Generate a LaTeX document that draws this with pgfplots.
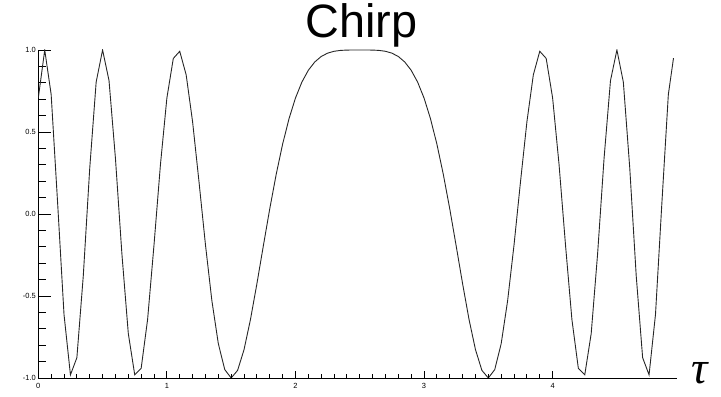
\documentclass[border=0pt]{standalone}
\usepackage{pgfplots}
\pgfplotsset{compat=1.18}
\usepackage{fontspec}
\setmainfont{Liberation Sans}
\newfontfamily\taufont{Liberation Serif}

\pgfplotstableread{
t y
0.00 0.70711
0.05 0.99997
0.10 0.72897
0.15 0.07063
0.20 -0.61291
0.25 -0.98079
0.30 -0.87631
0.35 -0.37541
0.40 0.27899
0.45 0.80438
0.50 1.00000
0.55 0.81358
0.60 0.33874
0.65 -0.24107
0.70 -0.72897
0.75 -0.98079
0.80 -0.94088
0.85 -0.64346
0.90 -0.18738
0.95 0.30153
1.00 0.70711
1.05 0.94860
1.10 0.99211
1.15 0.84851
1.20 0.56208
1.25 0.19509
1.30 -0.18738
1.35 -0.52904
1.40 -0.79016
1.45 -0.94860
1.50 -1.00000
1.55 -0.95347
1.60 -0.82708
1.65 -0.64346
1.70 -0.42578
1.75 -0.19509
1.80 0.03141
1.85 0.24107
1.90 0.42578
1.95 0.58141
2.00 0.70711
2.05 0.80438
2.10 0.87631
2.15 0.92686
2.20 0.96029
2.25 0.98079
2.30 0.99211
2.35 0.99750
2.40 0.99951
2.45 0.99997
2.50 1.00000
2.55 0.99997
2.60 0.99951
2.65 0.99750
2.70 0.99211
2.75 0.98079
2.80 0.96029
2.85 0.92686
2.90 0.87631
2.95 0.80438
3.00 0.70711
3.05 0.58141
3.10 0.42578
3.15 0.24107
3.20 0.03141
3.25 -0.19509
3.30 -0.42578
3.35 -0.64346
3.40 -0.82708
3.45 -0.95347
3.50 -1.00000
3.55 -0.94860
3.60 -0.79016
3.65 -0.52904
3.70 -0.18738
3.75 0.19509
3.80 0.56208
3.85 0.84851
3.90 0.99211
3.95 0.94860
4.00 0.70711
4.05 0.30153
4.10 -0.18738
4.15 -0.64346
4.20 -0.94088
4.25 -0.98079
4.30 -0.72897
4.35 -0.24107
4.40 0.33874
4.45 0.81358
4.50 1.00000
4.55 0.80438
4.60 0.27899
4.65 -0.37541
4.70 -0.87631
4.75 -0.98079
4.80 -0.61291
4.85 0.07063
4.90 0.72897
4.94 0.95000
}\chirp

\pgfplotsset{
  chirpframe/.style={
    at={(38.3bp,19bp)}, anchor=south west,
    scale only axis, width=638.4bp, height=328bp,
    xmin=0, xmax=4.965, ymin=-1, ymax=1,
    every tick/.style={line width=0.9bp, black},
    /pgf/number format/assume math mode=true,
  }
}

\begin{document}
\begin{tikzpicture}
\useasboundingbox (0,0) rectangle (721bp,397bp);
% y axis and curve
\begin{axis}[
    chirpframe,
    axis x line=none, axis y line=left,
    y axis line style={-, line width=0.9bp},
    tick align=inside,
    ytick={-1,-0.5,0,0.5,1}, minor y tick num=4,
    major tick length=13bp, minor tick length=8bp,
    yticklabel style={font=\fontsize{7.5}{7.5}\selectfont, anchor=east, xshift=1bp,
        /pgf/number format/fixed, /pgf/number format/fixed zerofill,
        /pgf/number format/precision=1},
    title={Chirp},
    title style={font=\fontsize{47}{47}\selectfont, at={(0.5,1)}, anchor=base,
        xshift=4bp, yshift=7bp},
]
\addplot[black!85, line width=0.9bp] table[x=t, y=y] {\chirp};
\end{axis}
% x axis
\begin{axis}[
    chirpframe,
    axis x line=bottom, axis y line=none,
    x axis line style={-, line width=0.9bp},
    tick align=inside,
    xtick={0,1,2,3,4}, minor x tick num=9,
    major tick length=7bp, minor tick length=4bp,
    xticklabel style={font=\fontsize{7.5}{7.5}\selectfont, anchor=north, yshift=-2bp},
    xlabel={\taufont\itshape τ},
    xlabel style={font=\fontsize{46}{46}\selectfont, at={(1,0)}, anchor=base,
        xshift=23bp, yshift=-5bp},
]
\end{axis}
\end{tikzpicture}
\end{document}
